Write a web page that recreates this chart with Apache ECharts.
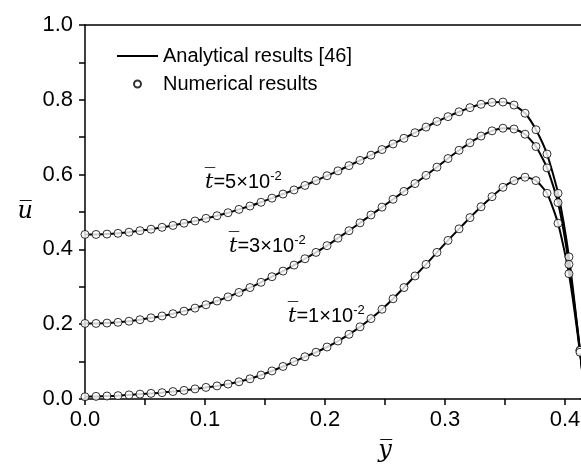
<!DOCTYPE html>
<html>
<head>
<meta charset="utf-8">
<script src="https://cdn.jsdelivr.net/npm/echarts@6/dist/echarts.min.js"></script>
<style>
html, body { margin: 0; padding: 0; background: #fff; }
#main { width: 581px; height: 464px; }
</style>
</head>
<body>
<div id="main"></div>
<script>
// y-bar positions of the numerical points (same grid for the three curves)
var yBar = [0, 0.0092, 0.0183, 0.0275, 0.0367, 0.0458, 0.055, 0.0642, 0.0733, 0.0825,
	0.0917, 0.1008, 0.11, 0.1192, 0.1283, 0.1375, 0.1467, 0.1558, 0.165, 0.1742,
	0.1833, 0.1925, 0.2017, 0.2108, 0.22, 0.2292, 0.2383, 0.2475, 0.2567, 0.2658,
	0.275, 0.2842, 0.2933, 0.3025, 0.3117, 0.3208, 0.33, 0.3392, 0.3483, 0.3575,
	0.3667, 0.3758, 0.385, 0.3942, 0.4033, 0.4125, 0.4167];
// u-bar for t = 5e-2
var u5 = [0.440, 0.440, 0.441, 0.443, 0.446, 0.450, 0.454, 0.459, 0.464, 0.470,
	0.476, 0.483, 0.490, 0.498, 0.507, 0.516, 0.526, 0.537, 0.548, 0.559,
	0.571, 0.584, 0.597, 0.610, 0.624, 0.638, 0.652, 0.667, 0.682, 0.697,
	0.712, 0.727, 0.742, 0.755, 0.768, 0.779, 0.788, 0.793, 0.794, 0.786,
	0.764, 0.720, 0.655, 0.550, 0.380, 0.130, 0];
// u-bar for t = 3e-2
var u3 = [0.202, 0.202, 0.203, 0.205, 0.208, 0.212, 0.217, 0.222, 0.228, 0.235,
	0.243, 0.252, 0.262, 0.273, 0.285, 0.298, 0.312, 0.327, 0.342, 0.358,
	0.375, 0.392, 0.410, 0.430, 0.450, 0.471, 0.492, 0.513, 0.534, 0.555,
	0.576, 0.598, 0.620, 0.643, 0.665, 0.685, 0.703, 0.717, 0.724, 0.722,
	0.708, 0.675, 0.618, 0.525, 0.360, 0.130, 0];
// u-bar for t = 1e-2
var u1 = [0.006, 0.007, 0.008, 0.009, 0.011, 0.013, 0.015, 0.017, 0.020, 0.023,
	0.027, 0.031, 0.035, 0.040, 0.046, 0.054, 0.064, 0.075, 0.087, 0.100,
	0.113, 0.125, 0.139, 0.155, 0.173, 0.193, 0.215, 0.240, 0.268, 0.298,
	0.329, 0.360, 0.392, 0.424, 0.455, 0.485, 0.514, 0.541, 0.566, 0.584,
	0.593, 0.584, 0.550, 0.470, 0.335, 0.125, 0];
var xTicks = [0, 0.1, 0.2, 0.3, 0.4];
var yTicks = [0, 0.2, 0.4, 0.6, 0.8, 1.0];

var LINE_NAME = 'Analytical results [46]';
var DOT_NAME = 'Numerical results';

function pairs(ys) {
	var out = [];
	for (var i = 0; i < yBar.length; i++) {
		out.push([yBar[i], ys[i]]);
	}
	return out;
}

function lineSeries(ys) {
	return {
		name : LINE_NAME,
		type : 'line',
		data : pairs(ys),
		symbol : 'none',
		smooth : 0.2,
		lineStyle : { color : '#000', width : 2 },
		itemStyle : { color : '#000' },
		z : 2
	};
}

function dotSeries(ys) {
	return {
		name : DOT_NAME,
		type : 'scatter',
		data : pairs(ys),
		symbol : 'circle',
		symbolSize : 8,
		itemStyle : { color : '#fff', borderColor : '#000', borderWidth : 1 },
		z : 3
	};
}

var labelFont = {
	color : '#000',
	fontFamily : 'Liberation Sans, Arial, sans-serif',
	fontSize : 22
};

// rich text for the t-bar annotations
function tLabel(k) {
	return '{t|t\u0305}{m|=' + k + '\u00d710}{s|-2}';
}
var tRich = {
	t : { fontFamily : 'DejaVu Serif', fontStyle : 'italic', fontSize : 21, color : '#000' },
	m : { fontFamily : 'Liberation Sans', fontSize : 20, color : '#000' },
	s : { fontFamily : 'Liberation Sans', fontSize : 13, color : '#000', padding : [0, 0, 12, 0] }
};

var chart = echarts.init(document.getElementById('main'));
chart.setOption({
	backgroundColor : '#fff',
	animation : false,
	// plot area runs past the right edge, as in the cropped original
	grid : { left : 85, top : 25, bottom : 65, width : 600, outerBoundsMode : 'none' },
	legend : [ {
		data : [ { name : LINE_NAME, icon : 'rect' } ],
		left : 112,
		top : 41,
		itemWidth : 41,
		itemHeight : 2,
		textStyle : { color : '#000', fontSize : 20, fontFamily : 'Liberation Sans' }
	}, {
		data : [ DOT_NAME ],
		left : 128,
		top : 69,
		itemWidth : 41,
		itemHeight : 7,
		textStyle : { color : '#000', fontSize : 20, fontFamily : 'Liberation Sans' }
	} ],
	xAxis : [ {
		type : 'value',
		min : 0,
		max : 0.5,
		interval : 0.1,
		name : 'y\u0305',
		nameLocation : 'middle',
		nameGap : 40,
		nameTextStyle : { fontFamily : 'DejaVu Serif', fontStyle : 'italic', fontSize : 24, color : '#000' },
		axisLine : { onZero : false, lineStyle : { color : '#000', width : 1.5 } },
		axisTick : { show : true, length : 6, lineStyle : { color : '#000', width : 1.5 } },
		minorTick : { show : true, splitNumber : 2, length : 6, lineStyle : { color : '#000', width : 1.5 } },
		splitLine : { show : false },
		axisLabel : Object.assign({ margin : 10, formatter : function(v) {
			return xTicks.indexOf(Math.round(v * 10) / 10) >= 0 ? v.toFixed(1) : '';
		} }, labelFont)
	}, {
		type : 'value',
		position : 'top',
		min : 0,
		max : 0.5,
		axisLine : { onZero : false, lineStyle : { color : '#000', width : 1.5 } },
		axisTick : { show : false },
		axisLabel : { show : false },
		splitLine : { show : false }
	} ],
	yAxis : {
		type : 'value',
		min : 0,
		max : 1,
		interval : 0.2,
		name : 'u\u0305',
		nameLocation : 'middle',
		nameRotate : 0,
		nameGap : 52,
		nameTextStyle : { fontFamily : 'DejaVu Serif', fontStyle : 'italic', fontSize : 24, color : '#000' },
		axisLine : { lineStyle : { color : '#000', width : 1.5 } },
		axisTick : { show : true, length : 6, lineStyle : { color : '#000', width : 1.5 } },
		minorTick : { show : true, splitNumber : 2, length : 6, lineStyle : { color : '#000', width : 1.5 } },
		splitLine : { show : false },
		axisLabel : Object.assign({ margin : 12, formatter : function(v) {
			return yTicks.indexOf(Math.round(v * 10) / 10) >= 0 ? v.toFixed(1) : '';
		} }, labelFont)
	},
	graphic : [
		{ type : 'text', left : 205, top : 170, style : { text : tLabel(5), rich : tRich } },
		{ type : 'text', left : 229, top : 234, style : { text : tLabel(3), rich : tRich } },
		{ type : 'text', left : 288, top : 304, style : { text : tLabel(1), rich : tRich } }
	],
	series : [
		lineSeries(u5), lineSeries(u3), lineSeries(u1),
		dotSeries(u5), dotSeries(u3), dotSeries(u1)
	]
});
</script>
</body>
</html>
